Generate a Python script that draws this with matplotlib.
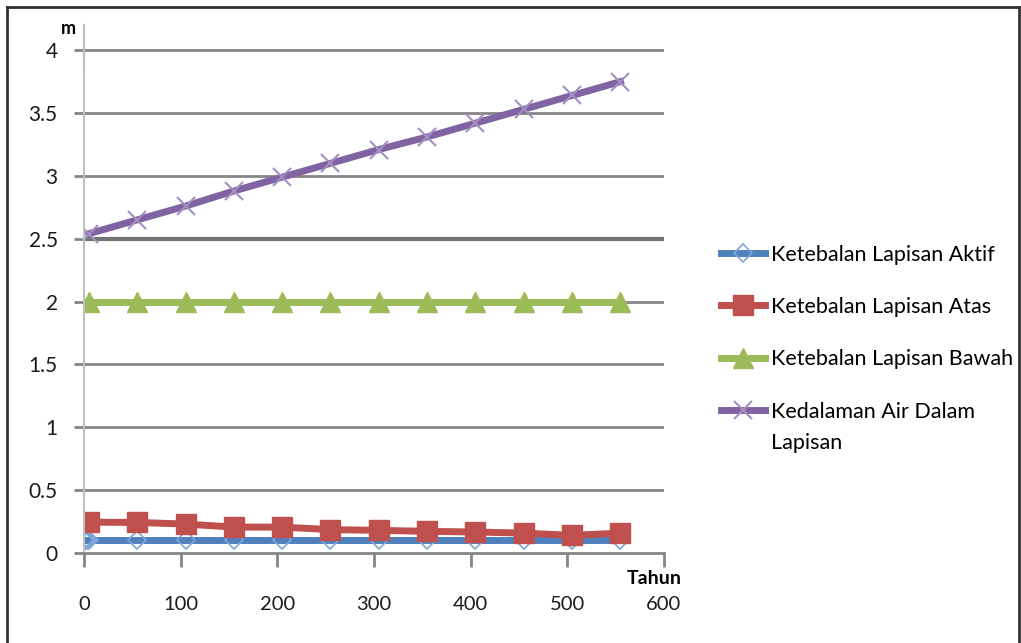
import matplotlib
matplotlib.use("Agg")
import matplotlib.pyplot as plt
from matplotlib.lines import Line2D

plt.rcParams['font.family'] = ['Lato', 'DejaVu Sans']

# data
tahun = [5, 55, 105, 155, 205, 255, 305, 355, 405, 455, 505, 555]
tahun_aktif = [0, 1, 2, 3, 4] + tahun
aktif = [0.1] * len(tahun_aktif)
atas = [0.245, 0.243, 0.23, 0.206, 0.206, 0.186, 0.18, 0.172, 0.167, 0.158, 0.14, 0.158]
bawah = [2.0] * len(tahun)
air = [2.54, 2.65, 2.76, 2.88, 2.99, 3.10, 3.21, 3.31, 3.42, 3.53, 3.64, 3.75]

labels = ['Ketebalan Lapisan Aktif', 'Ketebalan Lapisan Atas',
          'Ketebalan Lapisan Bawah', 'Kedalaman Air Dalam']
label_wrap = 'Lapisan'
yticks = [0, 0.5, 1, 1.5, 2, 2.5, 3, 3.5, 4]
ytick_labels = ['0', '0.5', '1', '1.5', '2', '2.5', '3', '3.5', '4']
xticks = [0, 100, 200, 300, 400, 500, 600]

W, H = 1021, 643
fig = plt.figure(figsize=(W / 100, H / 100), dpi=100)
ax = fig.add_axes([0.0823, 0.140, 0.568, 0.821])

grid_c = '#868686'
for v in yticks[1:]:
    if v == 2.5:
        ax.axhline(v, color='#747474', lw=3, zorder=0)
    else:
        ax.axhline(v, color=grid_c, lw=2, zorder=0)

ax.plot(tahun_aktif, aktif, color='#4F81BD', lw=5, marker='D', ms=9,
        mfc='none', mec='#7FA6DA', mew=1.2, label=labels[0])
ax.plot(tahun, atas, color='#C0504D', lw=5, marker='s', ms=15,
        label=labels[1])
ax.plot(tahun, bawah, color='#9BBB59', lw=5, marker='^', ms=15,
        label=labels[2])
ax.plot(tahun, air, color='#8064A2', lw=5, marker='x', ms=13,
        mec='#A38FC2', mew=1.5, label=labels[3])

ax.set_xlim(0, 600)
ax.set_ylim(0, 4.2)
ax.set_yticks(yticks)
ax.set_yticklabels(ytick_labels)
ax.set_xticks(xticks)

for s in ['top', 'right']:
    ax.spines[s].set_visible(False)
ax.spines['left'].set_color('#BFBFBF')
ax.spines['left'].set_linewidth(1.5)
ax.spines['bottom'].set_color(grid_c)
ax.spines['bottom'].set_linewidth(2)
# darker stub at top of the y axis
ax.axvline(0, ymin=3.88 / 4.2, ymax=1, color='#333333', lw=1.5, clip_on=False)

ax.tick_params(axis='y', length=7, width=2, color=grid_c, pad=12,
               labelsize=15, labelcolor='#1a1a1a')
ax.tick_params(axis='x', length=10, width=2, color=grid_c, pad=21,
               labelsize=14.5, labelcolor='#1a1a1a')

fig.text(68 / W, 1 - 28 / H, 'm', fontsize=13, fontweight='bold',
         ha='center', va='center')
fig.text(654 / W, 1 - 578 / H, 'Tahun', fontsize=14, fontweight='bold',
         ha='center', va='center')

leg = fig.legend(loc='center left', bbox_to_anchor=(0.687, 0.482), frameon=False,
                 fontsize=15.5, handlelength=2.05, handletextpad=0.3,
                 labelspacing=1.5)

# second line of the last legend label, under the first line
fig.canvas.draw()
bb = leg.get_texts()[3].get_window_extent()
fig.text(bb.x0 / W, (bb.y0 - 31) / H, label_wrap, fontsize=15.5,
         ha='left', va='bottom')

# outer frame
frame = [([7, 7], [7, 643]), ([7, 1019], [7, 7]), ([1019, 1019], [7, 643])]
for xs, ys in frame:
    fig.add_artist(Line2D([x / W for x in xs], [1 - y / H for y in ys],
                          color='#333333', lw=2))

fig.savefig('out.png', dpi=100)
